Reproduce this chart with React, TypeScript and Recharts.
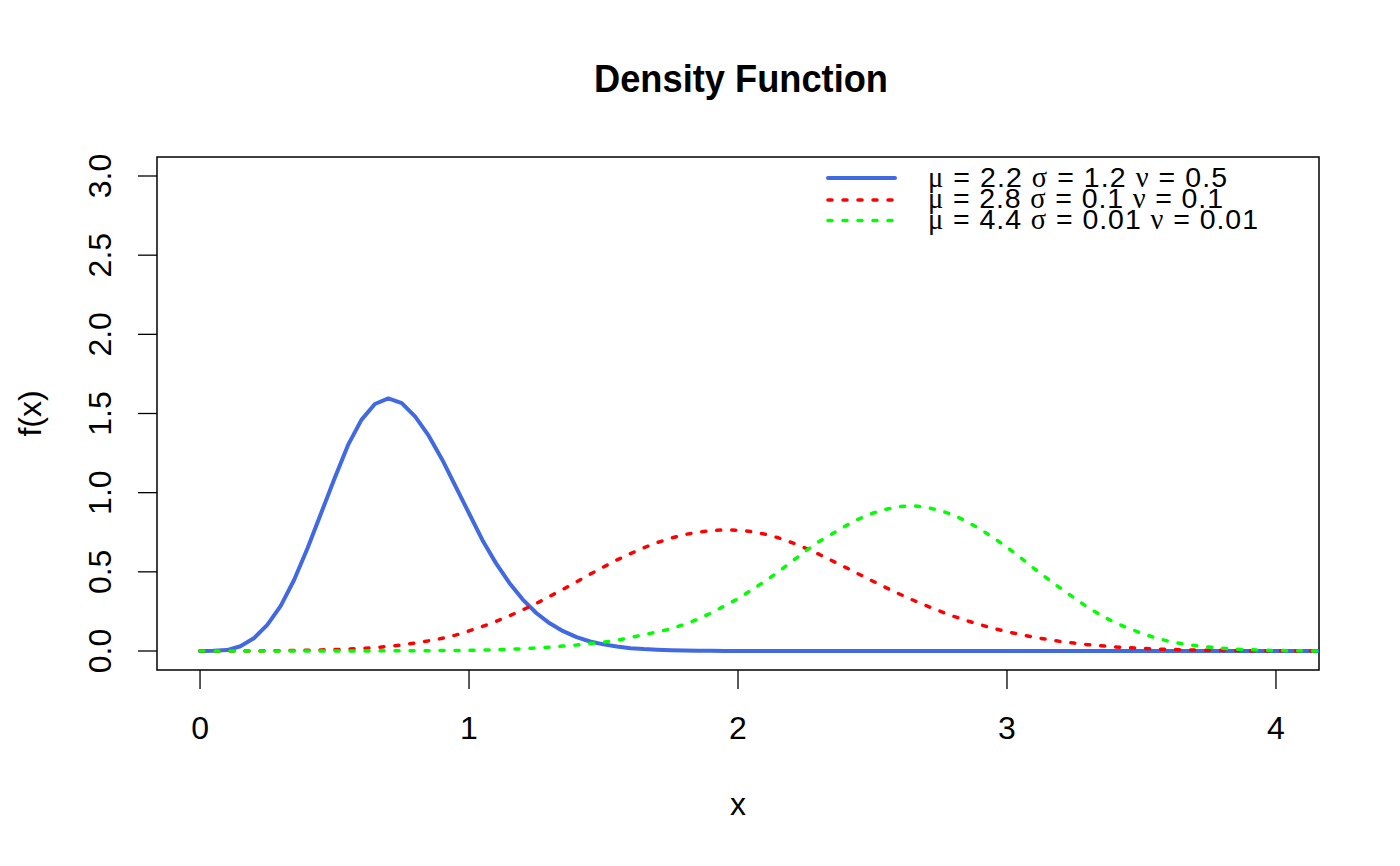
import React from 'react';
import { LineChart, Line, XAxis, YAxis, Legend, ReferenceArea, Label } from 'recharts';

const xValues = [
  0, 0.05, 0.1, 0.15, 0.2, 0.25, 0.3, 0.35, 0.4, 0.45,
  0.5, 0.55, 0.6, 0.65, 0.7, 0.75, 0.8, 0.85, 0.9, 0.95,
  1, 1.05, 1.1, 1.15, 1.2, 1.25, 1.3, 1.35, 1.4, 1.45,
  1.5, 1.55, 1.6, 1.65, 1.7, 1.75, 1.8, 1.85, 1.9, 1.95,
  2, 2.05, 2.1, 2.15, 2.2, 2.25, 2.3, 2.35, 2.4, 2.45,
  2.5, 2.55, 2.6, 2.65, 2.7, 2.75, 2.8, 2.85, 2.9, 2.95,
  3, 3.05, 3.1, 3.15, 3.2, 3.25, 3.3, 3.35, 3.4, 3.45,
  3.5, 3.55, 3.6, 3.65, 3.7, 3.75, 3.8, 3.85, 3.9, 3.95,
  4, 4.05, 4.1, 4.15, 4.2,
];

const blueDensity = [
  0, 0.001, 0.006, 0.03, 0.08, 0.165, 0.285, 0.45, 0.65, 0.87,
  1.09, 1.3, 1.46, 1.56, 1.595, 1.565, 1.48, 1.36, 1.21, 1.04,
  0.87, 0.7, 0.555, 0.43, 0.325, 0.24, 0.175, 0.125, 0.088, 0.06,
  0.042, 0.028, 0.018, 0.012, 0.008, 0.005, 0.003, 0.002, 0.001, 0.0007,
  0.0004, 0.0002, 0.0001, 0, 0, 0, 0, 0, 0, 0,
  0, 0, 0, 0, 0, 0, 0, 0, 0, 0,
  0, 0, 0, 0, 0, 0, 0, 0, 0, 0,
  0, 0, 0, 0, 0, 0, 0, 0, 0, 0,
  0, 0, 0, 0, 0,
];

const redDensity = [
  0, 0, 0, 0, 0.0005, 0.001, 0.002, 0.003, 0.005, 0.007,
  0.009, 0.012, 0.016, 0.021, 0.03, 0.038, 0.05, 0.064, 0.08, 0.1,
  0.127, 0.155, 0.187, 0.222, 0.26, 0.3, 0.345, 0.39, 0.437, 0.485,
  0.53, 0.575, 0.615, 0.652, 0.685, 0.712, 0.735, 0.75, 0.76, 0.765,
  0.763, 0.754, 0.738, 0.715, 0.685, 0.65, 0.612, 0.57, 0.528, 0.485,
  0.442, 0.4, 0.36, 0.322, 0.286, 0.252, 0.22, 0.192, 0.166, 0.143,
  0.122, 0.104, 0.087, 0.073, 0.06, 0.05, 0.04, 0.033, 0.026, 0.021,
  0.017, 0.013, 0.01, 0.008, 0.006, 0.005, 0.004, 0.003, 0.002, 0.0015,
  0.001, 0.0008, 0.0006, 0.0004, 0.0003,
];

const greenDensity = [
  0, 0, 0, 0, 0, 0, 0, 0, 0, 0,
  0.0002, 0.0003, 0.0005, 0.0007, 0.001, 0.0013, 0.0017, 0.0022, 0.0028, 0.0035,
  0.004, 0.006, 0.008, 0.011, 0.014, 0.019, 0.024, 0.031, 0.038, 0.047,
  0.056, 0.068, 0.085, 0.103, 0.12, 0.14, 0.168, 0.2, 0.24, 0.285,
  0.33, 0.385, 0.44, 0.5, 0.565, 0.63, 0.69, 0.74, 0.79, 0.835,
  0.87, 0.895, 0.912, 0.918, 0.908, 0.888, 0.86, 0.818, 0.77, 0.715,
  0.655, 0.59, 0.522, 0.458, 0.395, 0.335, 0.276, 0.225, 0.18, 0.145,
  0.112, 0.084, 0.062, 0.046, 0.034, 0.025, 0.017, 0.012, 0.008, 0.005,
  0.003, 0.002, 0.001, 0.0007, 0.0005,
];

const xTicks = [0, 1, 2, 3, 4];
const yTicks = [0, 0.5, 1, 1.5, 2, 2.5, 3];
const xDomain = [-0.16, 4.16];
const yDomain = [-0.12, 3.12];

const legendItems = [
  { key: 'blue', mu: '2.2', sigma: '1.2', nu: '0.5' },
  { key: 'red', mu: '2.8', sigma: '0.1', nu: '0.1' },
  { key: 'green', mu: '4.4', sigma: '0.01', nu: '0.01' },
];

const titleText = 'Density Function';
const xLabel = 'x';
const yLabel = 'f(x)';

const data = xValues.map((x, i) => ({
  x,
  blue: blueDensity[i],
  red: redDensity[i],
  green: greenDensity[i],
}));

const FONT = '"Liberation Sans", Arial, Helvetica, sans-serif';
const GREEK = '"Liberation Serif", "DejaVu Serif", serif';

const seriesStyle: Record<string, any> = {
  blue: { stroke: '#4169E1', strokeWidth: 4, dash: undefined },
  red: { stroke: '#FF0000', strokeWidth: 3.5, dash: '4 11' },
  green: { stroke: '#00FF00', strokeWidth: 3.5, dash: '4 11' },
};

const XTick = (props: any) => {
  const { x, y, payload } = props;
  return (
    <text x={x} y={y + 48} textAnchor="middle" fontSize={32} fontFamily={FONT} fill="#000">
      {String(payload.value)}
    </text>
  );
};

const YTick = (props: any) => {
  const { x, y, payload } = props;
  const bx = x - 25;
  return (
    <text
      x={bx}
      y={y}
      transform={`rotate(-90, ${bx}, ${y})`}
      textAnchor="middle"
      fontSize={32}
      fontFamily={FONT}
      fill="#000"
    >
      {Number(payload.value).toFixed(1)}
    </text>
  );
};

const legendWidths = [299, 295, 330];

const LegendContent = () => {
  const rowLineY = [18, 40, 60.5];
  const rowTextY = [27, 47.5, 68.5];
  return (
    <svg width={480} height={90} style={{ display: 'block', overflow: 'visible' }}>
      {legendItems.map((it, i) => {
        const s = seriesStyle[it.key];
        return (
          <g key={it.key}>
            <line
              x1={13}
              x2={80}
              y1={rowLineY[i]}
              y2={rowLineY[i]}
              stroke={s.stroke}
              strokeWidth={s.strokeWidth}
              strokeDasharray={s.dash}
              strokeLinecap="round"
            />
            <text
              x={113}
              y={rowTextY[i]}
              fontSize={28.5}
              fontFamily={FONT}
              fill="#000"
              textLength={legendWidths[i]}
              lengthAdjust="spacing"
            >
              <tspan fontFamily={GREEK}>μ</tspan>
              {` = ${it.mu} `}
              <tspan fontFamily={GREEK}>σ</tspan>
              {` = ${it.sigma} `}
              <tspan fontFamily={GREEK}>ν</tspan>
              {` = ${it.nu}`}
            </text>
          </g>
        );
      })}
    </svg>
  );
};

export default function App() {
  return (
    <div style={{ position: 'absolute', left: 0, top: 0, width: 1400, height: 866, background: '#fff' }}>
      <LineChart
        width={1400}
        height={866}
        data={data}
        margin={{ top: 157, right: 81, bottom: 0, left: 0 }}
      >
        <XAxis
          dataKey="x"
          type="number"
          domain={xDomain}
          ticks={xTicks}
          allowDataOverflow
          axisLine={false}
          tickSize={19}
          tickLine={{ stroke: '#000', strokeWidth: 1.3 }}
          tick={<XTick />}
          height={196}
        >
          <Label
            content={(p: any) => {
              const vb = p.viewBox || {};
              return (
                <text
                  x={vb.x + vb.width / 2}
                  y={vb.y + 145}
                  textAnchor="middle"
                  fontSize={32}
                  fontFamily={FONT}
                  fill="#000"
                >
                  {xLabel}
                </text>
              );
            }}
          />
        </XAxis>
        <YAxis
          type="number"
          domain={yDomain}
          ticks={yTicks}
          allowDataOverflow
          axisLine={false}
          tickSize={19}
          tickLine={{ stroke: '#000', strokeWidth: 1.3 }}
          tick={<YTick />}
          width={157}
        >
          <Label
            content={(p: any) => {
              const vb = p.viewBox || {};
              const cx = vb.x + 41;
              const cy = vb.y + vb.height / 2;
              return (
                <text
                  x={cx}
                  y={cy}
                  transform={`rotate(-90, ${cx}, ${cy})`}
                  textAnchor="middle"
                  fontSize={32}
                  fontFamily={FONT}
                  fill="#000"
                >
                  {yLabel}
                </text>
              );
            }}
          />
        </YAxis>
        {(['blue', 'red', 'green'] as const).map((k) => (
          <Line
            key={k}
            dataKey={k}
            type="linear"
            stroke={seriesStyle[k].stroke}
            strokeWidth={seriesStyle[k].strokeWidth}
            strokeDasharray={seriesStyle[k].dash}
            strokeLinecap="round"
            strokeLinejoin="round"
            dot={false}
            activeDot={false}
            isAnimationActive={false}
          />
        ))}
        <ReferenceArea
          x1={xDomain[0]}
          x2={xDomain[1]}
          y1={yDomain[0]}
          y2={yDomain[1]}
          fill="none"
          fillOpacity={0}
          stroke="#000"
          strokeWidth={1.5}
          ifOverflow="visible"
        />
        <Legend
          layout="vertical"
          verticalAlign="middle"
          align="center"
          content={<LegendContent />}
          wrapperStyle={{ position: 'absolute', left: 815, top: 160, width: 480, height: 90 }}
        />
      </LineChart>
      <svg
        width={1400}
        height={120}
        style={{ position: 'absolute', left: 0, top: 0, pointerEvents: 'none' }}
      >
        <text
          x={741}
          y={92}
          textAnchor="middle"
          fontSize={38.5}
          fontWeight="bold"
          fontFamily={FONT}
          fill="#000"
          textLength={294}
          lengthAdjust="spacingAndGlyphs"
        >
          {titleText}
        </text>
      </svg>
    </div>
  );
}
